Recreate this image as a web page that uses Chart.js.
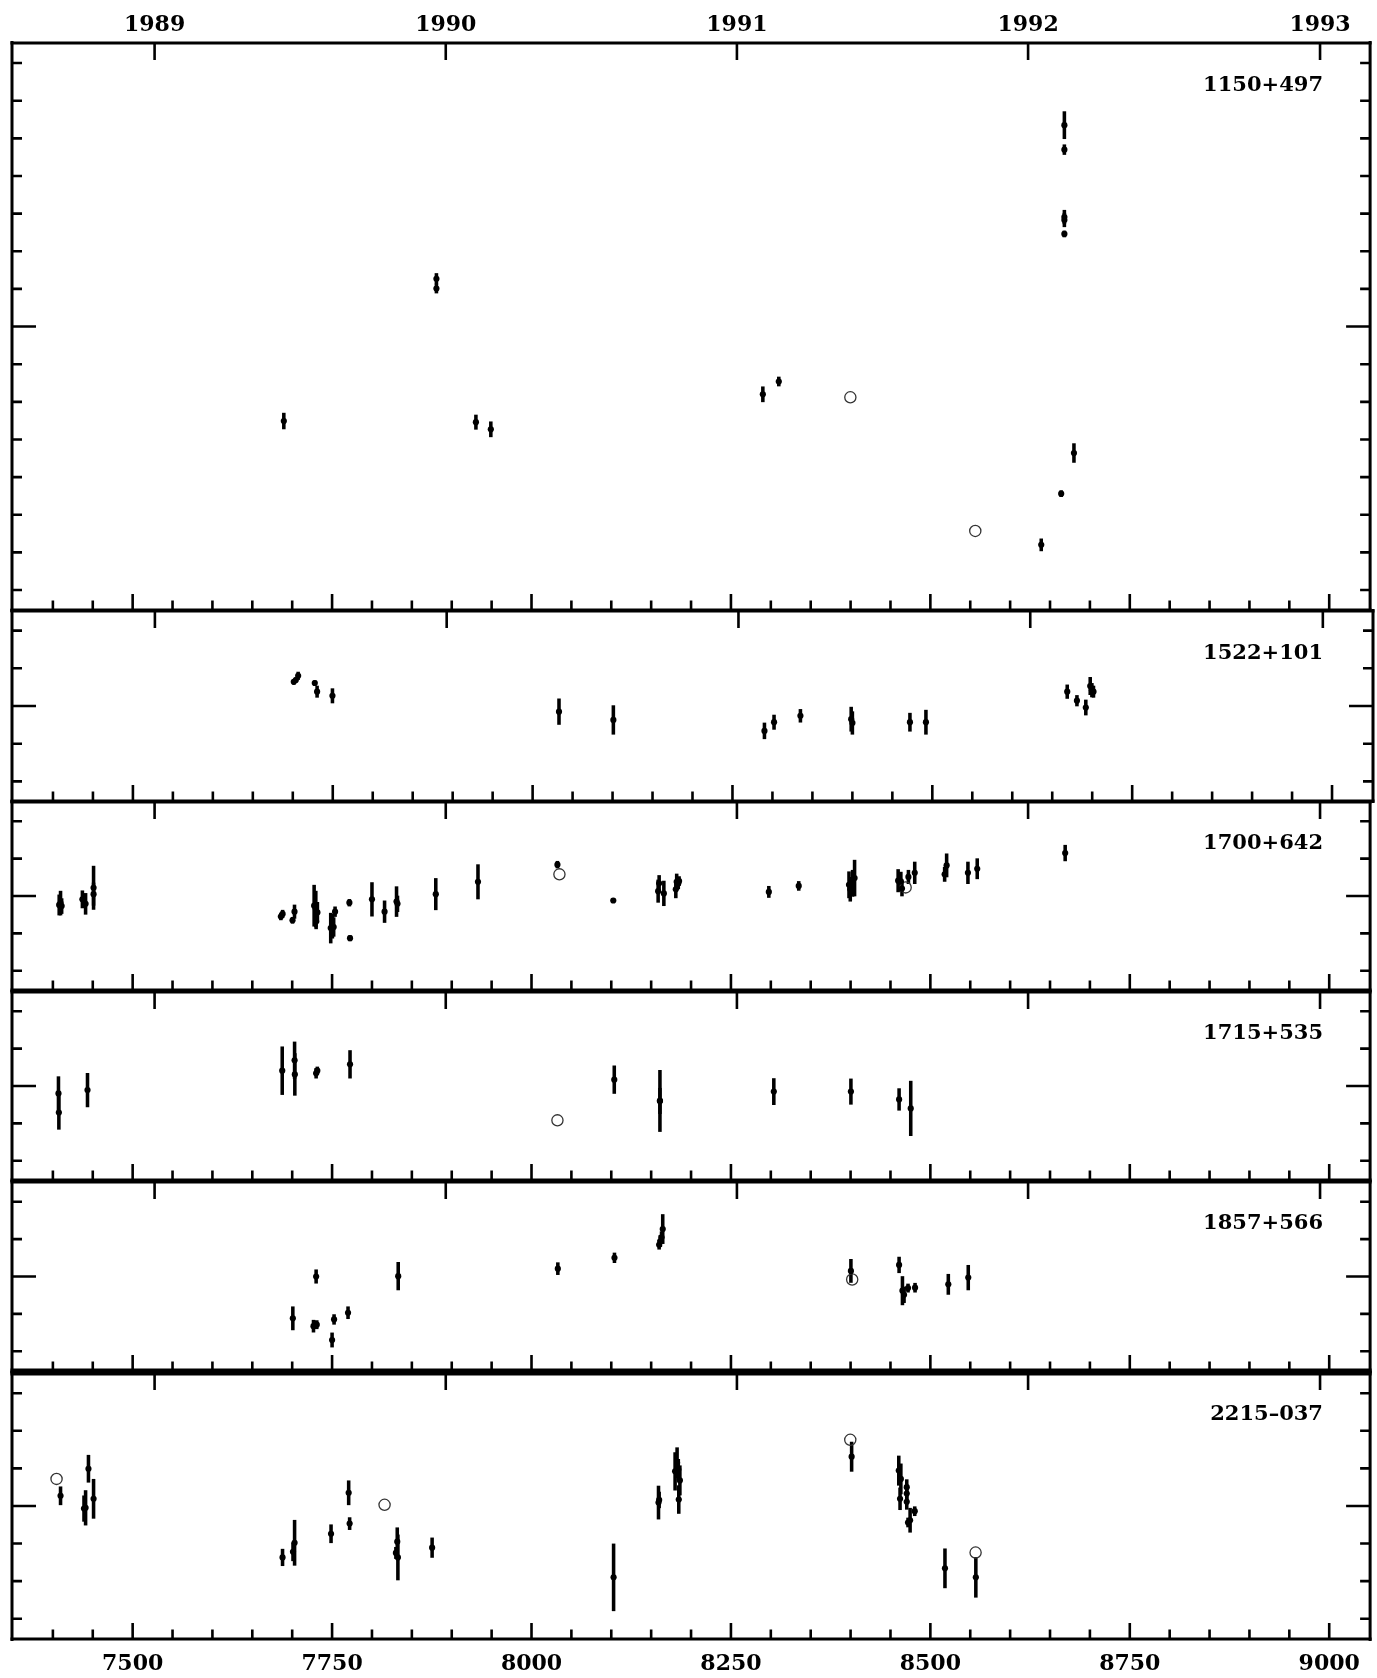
<!DOCTYPE html>
<html><head><meta charset="utf-8">
<script src="https://cdn.jsdelivr.net/npm/chart.js@4.4.1/dist/chart.umd.min.js"></script>
<style>
html,body{margin:0;padding:0;background:#fff;}
#wrap{position:relative;width:1377px;height:1678px;overflow:hidden;background:#fff;}
#wrap canvas{position:absolute;left:0;}
.lbl{position:absolute;font-family:"DejaVu Serif",serif;font-weight:bold;font-size:21px;line-height:21px;color:#000;white-space:nowrap;}
</style></head><body><div id="wrap"></div>
<script>
// ---------------- DATA (days = JD - 2440000, flux = relative) ----------------
const sourceNames = ["1150+497", "1522+101", "1700+642", "1715+535", "1857+566", "2215\u2013037"];

const yearTickDays = [7527.5, 7892.5, 8257.5, 8622.5, 8988.5];
const yearLabels = ["1989", "1990", "1991", "1992", "1993"];
const dayLabelValues = [7500, 7750, 8000, 8250, 8500, 8750, 9000];
const dayLabels = ["7500", "7750", "8000", "8250", "8500", "8750", "9000"];

// 1150+497
const p1Days = [7689.5, 7880.8, 7880.8, 7930.3, 7949, 8290, 8310, 8639, 8664, 8668, 8668, 8668, 8668, 8668, 8680];
const p1Flux = [0.749, 1.127, 1.101, 0.746, 0.727, 0.820, 0.854, 0.420, 0.556, 1.535, 1.470, 1.291, 1.283, 1.246, 0.664];
const p1Err  = [0.021, 0.014, 0.012, 0.019, 0.020, 0.020, 0.012, 0.016, 0.008, 0.036, 0.013, 0.018, 0.018, 0.008, 0.025];
const p1OpenDays = [8399.7, 8556.3];
const p1OpenFlux = [0.812, 0.457];

// 1522+101
const p2Days = [7701.25, 7703.75, 7706.7, 7727.5, 7730.4, 7749.6, 8033, 8101, 8290, 8302, 8335, 8398.5, 8400, 8472, 8492, 8668.75, 8680.9, 8692, 8697.5, 8699.6, 8701.6];
const p2Flux = [1.064, 1.069, 1.080, 1.061, 1.038, 1.027, 0.985, 0.963, 0.934, 0.957, 0.974, 0.965, 0.955, 0.957, 0.957, 1.038, 1.014, 0.996, 1.053, 1.042, 1.038];
const p2Err  = [0.006, 0.006, 0.010, 0.006, 0.015, 0.019, 0.034, 0.038, 0.021, 0.019, 0.017, 0.032, 0.030, 0.024, 0.032, 0.018, 0.014, 0.020, 0.023, 0.018, 0.015];
const p2OpenDays = [];
const p2OpenFlux = [];

// 1700+642
const p3Days = [7407.9, 7409.6, 7411, 7437, 7441, 7451, 7451, 7685.8, 7688, 7700.4, 7702.9, 7727.5, 7729.6, 7731.6, 7730, 7748.3, 7750.4, 7752, 7753.75, 7771.7, 7772.5, 7800, 7815.8, 7830.8, 7832, 7880, 7932.9, 8032.5, 8102.5, 8158.75, 8160, 8165.9, 8180.9, 8182, 8184, 8185, 8297.5, 8335, 8398, 8399.6, 8402.5, 8405, 8459.6, 8463, 8464.4, 8472.5, 8480.4, 8517.9, 8520.4, 8547.1, 8558.75, 8669];
const p3Flux = [0.976, 0.981, 0.973, 0.991, 0.979, 1.022, 1.005, 0.945, 0.952, 0.935, 0.958, 0.974, 0.965, 0.956, 0.932, 0.914, 0.919, 0.917, 0.958, 0.982, 0.887, 0.991, 0.958, 0.985, 0.979, 1.005, 1.038, 1.084, 0.988, 1.013, 1.034, 1.007, 1.018, 1.038, 1.034, 1.040, 1.011, 1.027, 1.030, 1.018, 1.034, 1.048, 1.041, 1.039, 1.020, 1.051, 1.062, 1.058, 1.082, 1.062, 1.073, 1.115];
const p3Err  = [0.027, 0.032, 0.020, 0.023, 0.028, 0.058, 0.030, 0.009, 0.010, 0.008, 0.018, 0.055, 0.048, 0.027, 0.020, 0.040, 0.032, 0.025, 0.013, 0.009, 0.007, 0.045, 0.029, 0.040, 0.021, 0.042, 0.046, 0.009, 0.005, 0.030, 0.021, 0.033, 0.023, 0.021, 0.015, 0.012, 0.015, 0.012, 0.035, 0.032, 0.035, 0.048, 0.030, 0.025, 0.020, 0.018, 0.029, 0.019, 0.031, 0.029, 0.027, 0.021];
const p3OpenDays = [8035, 8469];
const p3OpenFlux = [1.058, 1.023];

// 1715+535
const p4Days = [7407, 7407.5, 7443.4, 7687.5, 7703, 7703.3, 7730, 7731.5, 7772.5, 8103.75, 8161, 8161, 8303.75, 8400.4, 8460.8, 8475.4];
const p4Flux = [0.980, 0.929, 0.989, 1.041, 1.069, 1.031, 1.034, 1.041, 1.058, 1.017, 0.960, 0.960, 0.985, 0.985, 0.964, 0.940];
const p4Err  = [0.045, 0.045, 0.045, 0.064, 0.049, 0.056, 0.013, 0.010, 0.037, 0.037, 0.082, 0.034, 0.035, 0.034, 0.029, 0.073];
const p4OpenDays = [8032.5];
const p4OpenFlux = [0.908];

// 1857+566
const p5Days = [7700.8, 7726.7, 7730.8, 7730, 7750, 7752.5, 7770, 7832.9, 8033, 8104, 8160, 8161.5, 8163, 8164.5, 8400.4, 8460.8, 8465, 8467, 8472, 8480.8, 8522.5, 8547.5];
const p5Flux = [0.888, 0.867, 0.871, 1.000, 0.830, 0.885, 0.903, 1.001, 1.021, 1.050, 1.085, 1.095, 1.105, 1.127, 1.015, 1.031, 0.962, 0.951, 0.969, 0.970, 0.979, 0.997];
const p5Err  = [0.031, 0.016, 0.011, 0.018, 0.019, 0.013, 0.016, 0.037, 0.016, 0.013, 0.012, 0.015, 0.015, 0.039, 0.031, 0.021, 0.038, 0.021, 0.011, 0.012, 0.027, 0.033];
const p5OpenDays = [8402];
const p5OpenFlux = [0.992];

// 2215-037
const p6Days = [7409.6, 7444.6, 7439, 7441, 7451, 7687.9, 7703, 7701, 7748.7, 7770.8, 7772, 7831.7, 7830, 7832.5, 7875.4, 8102.9, 8159.2, 8160, 8180, 8182.5, 8184, 8186, 8184.6, 8401.3, 8460.4, 8463, 8462, 8470.4, 8470.4, 8470.4, 8472, 8474.6, 8480.4, 8518.3, 8557];
const p6Flux = [1.027, 1.099, 0.993, 0.995, 1.019, 0.863, 0.902, 0.878, 0.926, 1.035, 0.953, 0.905, 0.875, 0.863, 0.889, 0.810, 1.009, 1.016, 1.092, 1.115, 1.097, 1.068, 1.017, 1.131, 1.094, 1.072, 1.019, 1.050, 1.033, 1.011, 0.956, 0.962, 0.986, 0.834, 0.810];
const p6Err  = [0.024, 0.036, 0.034, 0.046, 0.052, 0.022, 0.060, 0.024, 0.024, 0.032, 0.016, 0.037, 0.015, 0.060, 0.026, 0.089, 0.044, 0.021, 0.050, 0.040, 0.027, 0.039, 0.037, 0.039, 0.039, 0.040, 0.029, 0.020, 0.020, 0.020, 0.012, 0.032, 0.012, 0.052, 0.053];
const p6OpenDays = [7404.6, 7815.8, 8399.6, 8556.7];
const p6OpenFlux = [1.072, 1.003, 1.176, 0.876];

// ---------------- LAYOUT ----------------
const W = 1377, H = 1678;
const XMIN = 7348.75, XMAX = 9051.25;
const panelTop    = [43, 611, 801, 991, 1181, 1372];
const panelBottom = [611, 801, 991, 1181, 1372, 1639];
const yRanges = [[0.2467, 1.7533], [0.748, 1.252], [0.748, 1.252], [0.748, 1.252], [0.7467, 1.2533], [0.646, 1.354]];
const yTickSets = [
  [0.3,0.4,0.5,0.6,0.7,0.8,0.9,1.0,1.1,1.2,1.3,1.4,1.5,1.6,1.7],
  [0.8,0.9,1.0,1.1,1.2],[0.8,0.9,1.0,1.1,1.2],[0.8,0.9,1.0,1.1,1.2],[0.8,0.9,1.0,1.1,1.2],
  [0.7,0.8,0.9,1.0,1.1,1.2,1.3]
];
const lineW = [3, 3, 3, 3, 3, 5, 3]; // boundary widths top..bottom (index = boundary)

const panels = [
  [p1Days, p1Flux, p1Err, p1OpenDays, p1OpenFlux],
  [p2Days, p2Flux, p2Err, p2OpenDays, p2OpenFlux],
  [p3Days, p3Flux, p3Err, p3OpenDays, p3OpenFlux],
  [p4Days, p4Flux, p4Err, p4OpenDays, p4OpenFlux],
  [p5Days, p5Flux, p5Err, p5OpenDays, p5OpenFlux],
  [p6Days, p6Flux, p6Err, p6OpenDays, p6OpenFlux]
];

const FONT = {family: '"DejaVu Serif", serif', size: 22, weight: 'bold'};
const wrap = document.getElementById('wrap');
const PAD = 6;

const frameTicks = {
  id: 'frameTicks',
  afterDraw(chart, args, opts) {
    const ctx = chart.ctx, ca = chart.chartArea;
    const xs = chart.scales.x, ys = chart.scales.y;
    ctx.save();
    ctx.strokeStyle = '#000';
    ctx.lineCap = 'butt';
    ctx.lineWidth = 2.6;
    ctx.beginPath();
    opts.yTicks.forEach(v => {
      const py = ys.getPixelForValue(v);
      const len = Math.abs(v - 1.0) < 1e-6 ? 24 : 10;
      ctx.moveTo(ca.left, py); ctx.lineTo(ca.left + len, py);
      ctx.moveTo(ca.right, py); ctx.lineTo(ca.right - len, py);
    });
    for (let d = 7400; d <= 9000; d += 50) {
      const px = xs.getPixelForValue(d);
      const len = d % 250 === 0 ? 16 : 9.5;
      ctx.moveTo(px, ca.bottom); ctx.lineTo(px, ca.bottom - len);
    }
    yearTickDays.forEach(d => {
      const px = xs.getPixelForValue(d);
      ctx.moveTo(px, ca.top); ctx.lineTo(px, ca.top + 17);
    });
    ctx.stroke();
    ctx.lineWidth = 3;
    ctx.beginPath();
    ctx.moveTo(ca.left, ca.top - 2); ctx.lineTo(ca.left, ca.bottom + 2);
    ctx.moveTo(ca.right, ca.top - 2); ctx.lineTo(ca.right, ca.bottom + 2);
    ctx.stroke();
    ctx.lineWidth = opts.topW;
    ctx.beginPath(); ctx.moveTo(ca.left - 1.5, ca.top); ctx.lineTo(ca.right + 1.5, ca.top); ctx.stroke();
    ctx.lineWidth = opts.bottomW;
    ctx.beginPath(); ctx.moveTo(ca.left - 1.5, ca.bottom); ctx.lineTo(ca.right + 1.5, ca.bottom); ctx.stroke();
    ctx.restore();
  }
};

panels.forEach((p, i) => {
  const [days, flux, err, oDays, oFlux] = p;
  const isFirst = i === 0, isLast = i === panels.length - 1;
  const cTop = isFirst ? 0 : panelTop[i] - PAD;
  const cBot = isLast ? H : panelBottom[i] + PAD;
  const cv = document.createElement('canvas');
  cv.width = W; cv.height = cBot - cTop;
  cv.style.top = cTop + 'px';
  cv.style.width = W + 'px'; cv.style.height = (cBot - cTop) + 'px';
  wrap.appendChild(cv);

  const xScale = {
    type: 'linear', position: 'bottom', min: XMIN, max: XMAX, display: isLast, offset: false,
    grid: {display: false, drawTicks: false, offset: false}, border: {display: false},
    afterBuildTicks: s => { s.ticks = dayLabelValues.map(v => ({value: v})); },
    ticks: {font: FONT, color: '#000', padding: 12, autoSkip: false, maxRotation: 0,
            callback: (v, idx) => dayLabels[idx]}
  };
  if (isLast) xScale.afterFit = s => { s.height = H - panelBottom[i]; };
  const scales = {
    x: xScale,
    y: {type: 'linear', min: yRanges[i][0], max: yRanges[i][1], display: false, beginAtZero: false}
  };
  if (isFirst) {
    scales.xTop = {
      type: 'linear', axis: 'x', position: 'top', min: XMIN, max: XMAX, display: true, offset: false,
      grid: {display: false, drawTicks: false, offset: false}, border: {display: false},
      afterBuildTicks: s => { s.ticks = yearTickDays.map(v => ({value: v})); },
      afterFit: s => { s.height = panelTop[0]; },
      ticks: {font: FONT, color: '#000', padding: 5, autoSkip: false, maxRotation: 0,
              callback: (v, idx) => yearLabels[idx]}
    };
  }

  new Chart(cv, {
    type: 'scatter',
    data: {
      datasets: [
        {
          type: 'scatter', label: 'points',
          data: days.map((d, k) => ({x: d, y: flux[k]})),
          pointRadius: 3.1, pointBackgroundColor: '#000', pointBorderWidth: 0, showLine: false
        },
        {
          type: 'scatter', label: 'open',
          data: oDays.map((d, k) => ({x: d, y: oFlux[k]})),
          pointRadius: 5.6, pointBackgroundColor: 'rgba(0,0,0,0)', pointBorderColor: '#333',
          pointBorderWidth: 1.3, showLine: false
        },
        {
          type: 'bar', label: 'errors',
          data: days.map((d, k) => ({x: d, y: [flux[k] - err[k], flux[k] + err[k]]})),
          backgroundColor: '#000', borderWidth: 0, barThickness: 2.9, grouped: true
        }
      ]
    },
    options: {
      responsive: false, animation: false, devicePixelRatio: 1, events: [],
      layout: {padding: {left: 12, right: 3, top: isFirst ? 0 : PAD, bottom: isLast ? 0 : PAD}},
      scales,
      plugins: {
        legend: {display: false}, tooltip: {enabled: false},
        frameTicks: {yTicks: yTickSets[i], topW: lineW[i], bottomW: lineW[i + 1]}
      }
    },
    plugins: [frameTicks]
  });

  const lbl = document.createElement('div');
  lbl.className = 'lbl';
  lbl.textContent = sourceNames[i];
  lbl.style.right = (W - 1323) + 'px';
  lbl.style.top = (panelTop[i] + 40 - 10) + 'px';
  wrap.appendChild(lbl);
});
</script>
</body></html>
